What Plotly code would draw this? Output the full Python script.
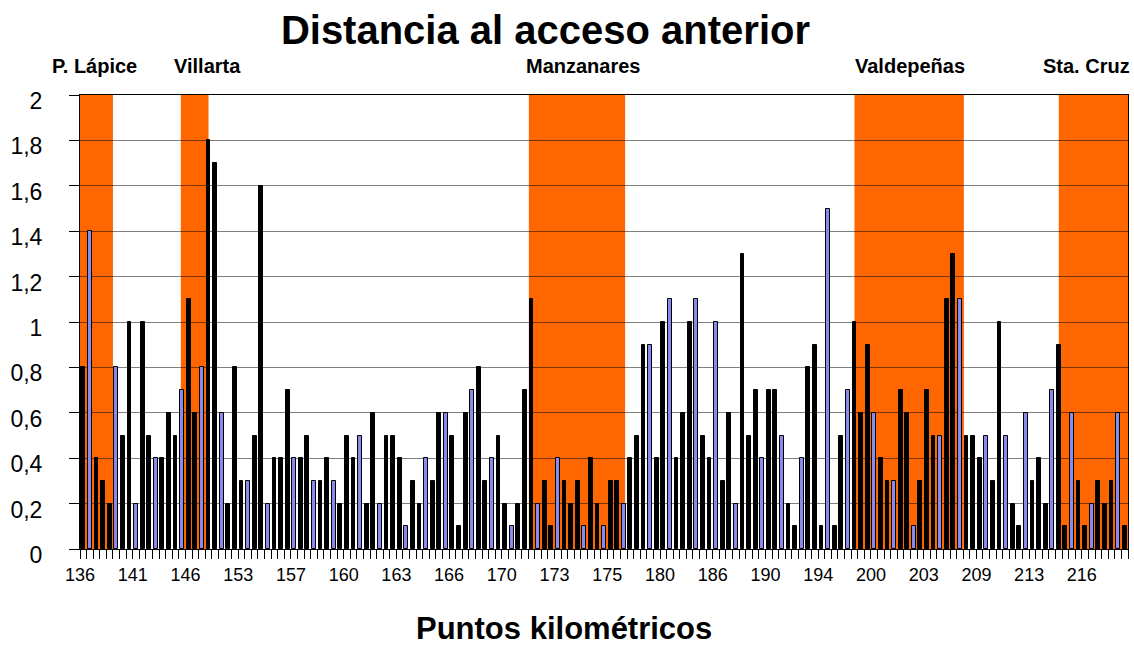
import plotly.graph_objects as go

# Distance (km) from each access to the previous one, in road order
values = [
    0.8, 1.4, 0.4, 0.3, 0.2, 0.8, 0.5, 1.0, 0.2, 1.0,
    0.5, 0.4, 0.4, 0.6, 0.5, 0.7, 1.1, 0.6, 0.8, 1.8,
    1.7, 0.6, 0.2, 0.8, 0.3, 0.3, 0.5, 1.6, 0.2, 0.4,
    0.4, 0.7, 0.4, 0.4, 0.5, 0.3, 0.3, 0.4, 0.3, 0.2,
    0.5, 0.4, 0.5, 0.2, 0.6, 0.2, 0.5, 0.5, 0.4, 0.1,
    0.3, 0.2, 0.4, 0.3, 0.6, 0.6, 0.5, 0.1, 0.6, 0.7,
    0.8, 0.3, 0.4, 0.5, 0.2, 0.1, 0.2, 0.7, 1.1, 0.2,
    0.3, 0.1, 0.4, 0.3, 0.2, 0.3, 0.1, 0.4, 0.2, 0.1,
    0.3, 0.3, 0.2, 0.4, 0.5, 0.9, 0.9, 0.4, 1.0, 1.1,
    0.4, 0.6, 1.0, 1.1, 0.5, 0.4, 1.0, 0.3, 0.6, 0.2,
    1.3, 0.5, 0.7, 0.4, 0.7, 0.7, 0.5, 0.2, 0.1, 0.4,
    0.8, 0.9, 0.1, 1.5, 0.1, 0.5, 0.7, 1.0, 0.6, 0.9,
    0.6, 0.4, 0.3, 0.3, 0.7, 0.6, 0.1, 0.3, 0.7, 0.5,
    0.5, 1.1, 1.3, 1.1, 0.5, 0.5, 0.4, 0.5, 0.3, 1.0,
    0.5, 0.2, 0.1, 0.6, 0.3, 0.4, 0.2, 0.7, 0.9, 0.1,
    0.6, 0.3, 0.1, 0.2, 0.3, 0.2, 0.3, 0.6, 0.1,
]

# Accesses (1-based order) drawn in periwinkle
highlighted = [
    2, 6, 9, 12, 16, 19, 22, 26, 29, 33, 36, 39, 43, 46, 50, 53, 56, 60,
    63, 66, 70, 73, 77, 80, 83, 87, 90, 94, 97, 100, 104, 107, 110, 114,
    117, 121, 124, 127, 131, 134, 138, 141, 144, 148, 151, 154, 158,
]

# Kilometre point shown every eighth access
km_labels = ["136", "141", "146", "153", "157", "160", "163", "166", "170", "173",
             "175", "180", "186", "190", "194", "200", "203", "209", "213", "216"]
label_step = 8

# Urban crossings (span in access order) and their names
towns = ["P. Lápice", "Villarta", "Manzanares", "Valdepeñas", "Sta. Cruz"]
town_spans = [(-0.5, 4.5), (14.8, 19.0), (67.6, 82.2), (117.0, 133.6), (148.0, 158.5)]
town_label_x = [0.0143, 0.1212, 0.48, 0.792, 0.96]

FONT = "Arial, 'Liberation Sans', sans-serif"
ORANGE = "#FF6600"
BLUE = "#8A8AEE"

n = len(values)
xs = list(range(n))
hl = set(highlighted)
colors = [BLUE if (i + 1) in hl else "black" for i in xs]

fig = go.Figure()
fig.add_trace(go.Bar(
    x=xs, y=values, width=0.58,
    marker=dict(color=colors, line=dict(color="black", width=1)),
    showlegend=False,
))

for (a, b) in town_spans:
    fig.add_shape(type="rect", xref="x", yref="y", x0=a, x1=b, y0=0, y1=2,
                  fillcolor=ORANGE, line=dict(width=0), layer="below")

for name, tx in zip(towns, town_label_x):
    fig.add_annotation(text=f"<b>{name}</b>", x=tx, y=1.064, xref="paper", yref="paper",
                       xanchor="center", yanchor="middle", showarrow=False,
                       font=dict(family=FONT, size=20, color="black"))

fig.add_annotation(text="<b>Puntos kilométricos</b>", x=0.462, y=-0.176,
                   xref="paper", yref="paper", xanchor="center", yanchor="middle",
                   showarrow=False, font=dict(family=FONT, size=31, color="black"))

tick_pos = [k * label_step - 0.5 for k in range(len(km_labels))]

fig.update_layout(
    width=1134, height=647,
    margin=dict(l=80, r=6, t=95, b=98),
    paper_bgcolor="white", plot_bgcolor="white",
    bargap=0,
    title=dict(text="<b>Distancia al acceso anterior</b>", x=0.481, y=0.9536,
               xanchor="center", yanchor="middle",
               font=dict(family=FONT, size=40, color="black")),
    font=dict(family=FONT, color="black"),
)

fig.update_xaxes(
    range=[-0.5, n - 0.5],
    tickmode="array", tickvals=tick_pos, ticktext=km_labels,
    ticks="outside", ticklen=9, tickcolor="black", tickwidth=1,
    tickfont=dict(family=FONT, size=18, color="black"),
    showgrid=False, zeroline=False,
    showline=True, linecolor="black", linewidth=1, mirror=True,
    minor=dict(tickmode="array", tickvals=[i - 0.5 for i in range(n + 1)],
               ticks="outside", ticklen=9, tickcolor="black", tickwidth=1,
               showgrid=False),
)

fig.update_yaxes(
    range=[0, 2], tickmode="array",
    tickvals=[0, 0.2, 0.4, 0.6, 0.8, 1.0, 1.2, 1.4, 1.6, 1.8, 2.0],
    ticktext=["0", "0,2", "0,4", "0,6", "0,8", "1", "1,2", "1,4", "1,6", "1,8", "2"],
    ticks="outside", ticklen=10, tickcolor="black", tickwidth=1,
    tickfont=dict(family=FONT, size=23, color="black"),
    ticklabelstandoff=22, ticklabelshift=6,
    showgrid=True, gridcolor="rgba(0,0,0,0.5)", gridwidth=1,
    zeroline=False,
    showline=True, linecolor="black", linewidth=1, mirror=True,
)

fig.write_html("out.html")
